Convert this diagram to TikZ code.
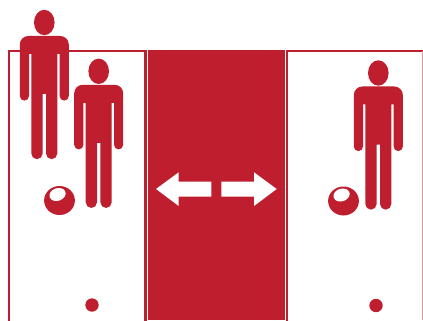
\documentclass[tikz,border=0pt]{standalone}
\definecolor{signred}{HTML}{BE1E2D}
\tikzset{
	person/.pic={
		\fill[signred] (0,0) ellipse (10.3 and 12.7);
		% body, drawn from the left shoulder round to the right
		\fill[signred] (-24.5,22) arc (180:270:8.5) -- (16,13.5) arc (270:360:8.5)
		-- (24.5,73.5) arc (0:180:4.6) -- (15.3,31.5) -- (13,31.5) -- (13,131)
		arc (0:180:5.65) -- (1.7,71.5) -- (-1.7,71.5) -- (-1.7,131)
		arc (0:180:5.65) -- (-13,31.5) -- (-15.3,31.5) -- (-15.3,73.5)
		arc (0:180:4.6) -- cycle;
	},
	ball/.pic={
		\fill[signred] (0,0) ellipse (15.4 and 14.5);
		\fill[white,rotate=18] (0,-6.3) ellipse (8.3 and 6.3);
	},
	room/.style={draw=signred, line width=2.2pt}
}
\begin{document}
\begin{tikzpicture}[x=0.75pt,y=-0.75pt]
	\useasboundingbox (0,0) rectangle (423,320);
	\fill[white] (0,0) rectangle (423,320);
	
	\begin{scope}
		\clip (0,0) rectangle (423,320);
		\draw[room] (9,340) -- (9,51) -- (145.3,51) -- (145.3,340);
		\draw[room] (287,340) -- (287,51) -- (430,51);
		\draw[signred!45, line width=0.8pt] (422.8,51) -- (422.8,320);
		\fill[signred] (148,50.5) rectangle (285.3,320);
	\end{scope}
	
	% arrows
	\fill[white] (156,189) -- (178.7,172.3) -- (178.7,181.7) -- (211.3,181.7)
	-- (211.3,196.7) -- (178.7,196.7) -- (178.7,206) -- cycle;
	\fill[white] (276.7,189) -- (254,172.3) -- (254,181.7) -- (221.3,181.7)
	-- (221.3,196.7) -- (254,196.7) -- (254,206) -- cycle;
	
	\pic at (44.3,22.5) {person};
	\pic at (98.7,71.3) {person};
	\pic at (378.3,73) {person};
	
	\pic at (59.5,200.5) {ball};
	\pic at (343.5,201) {ball};
	
	\fill[signred] (92,305) circle (6.7);
	\fill[signred] (376,305.5) circle (6.7);
\end{tikzpicture}
\end{document}
